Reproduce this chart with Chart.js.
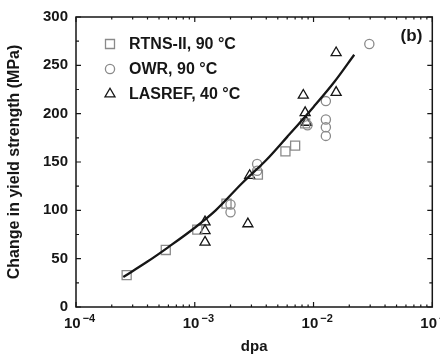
<!DOCTYPE html>
<html>
<head>
<meta charset="utf-8">
<script src="https://cdn.jsdelivr.net/npm/chart.js@4/dist/chart.umd.min.js"></script>
<style>
  html, body { margin: 0; padding: 0; background: #fff; }
  #wrap { width: 440px; height: 356px; }
</style>
</head>
<body>
<div id="wrap"><canvas id="c" width="440" height="356"></canvas></div>
<script>
// Irradiation dose (dpa) and yield-strength increase (MPa) for each facility
const rtnsDpa = [2.67e-4, 5.7e-4, 1.05e-3, 1.85e-3, 3.4e-3, 5.8e-3, 7.0e-3, 8.5e-3];
const rtnsDs  = [33, 59, 80, 107, 137, 161, 167, 190];

const owrDpa = [2.0e-3, 2.0e-3, 3.35e-3, 3.35e-3, 8.9e-3, 1.27e-2, 1.27e-2, 1.27e-2, 1.27e-2, 2.95e-2];
const owrDs  = [106, 98, 148, 141, 188, 213, 194, 186, 177, 272];

const lasrefDpa = [1.22e-3, 1.22e-3, 1.22e-3, 2.8e-3, 2.9e-3, 8.2e-3, 8.5e-3, 8.7e-3, 1.55e-2, 1.55e-2];
const lasrefDs  = [88, 79, 67, 86, 136, 219, 201, 191, 222, 263];

// Trend line through the combined data
const fitDpa = [2.5e-4, 4e-4, 6e-4, 1e-3, 1.5e-3, 2.5e-3, 4e-3, 6e-3, 1e-2, 1.5e-2, 2.2e-2];
const fitDs  = [31, 47, 62, 82, 100, 128, 152, 176, 207, 233, 261];

const seriesLabels = ['RTNS-II, 90 °C', 'OWR, 90 °C', 'LASREF, 40 °C'];
const decadeExponents = [-4, -3, -2, -1];
const yTickStep = 50;

const FONT = "'Liberation Sans', Arial, Helvetica, sans-serif";
const INK = '#161616';
const GREY = '#8a8a8a';

const pts = (xs, ys) => xs.map((x, i) => ({ x, y: ys[i] }));

function marker(ctx, style, x, y, color, lw) {
  ctx.save();
  ctx.strokeStyle = color;
  ctx.lineWidth = lw;
  ctx.beginPath();
  if (style === 'rect') {
    const s = 4.5;
    ctx.rect(x - s, y - s, 2 * s, 2 * s);
  } else if (style === 'circle') {
    ctx.arc(x, y, 4.6, 0, Math.PI * 2);
  } else {
    const r = 5.8;
    for (let k = 0; k < 3; k++) {
      const a = k * 2 * Math.PI / 3;
      const px = x + Math.sin(a) * r, py = y - Math.cos(a) * r;
      k === 0 ? ctx.moveTo(px, py) : ctx.lineTo(px, py);
    }
    ctx.closePath();
  }
  ctx.stroke();
  ctx.restore();
}

// Box frame, inward ticks, power-of-ten labels, legend and panel tag
const decorations = {
  id: 'decorations',
  afterDraw(chart) {
    const { ctx, chartArea: a, scales: { x, y } } = chart;
    ctx.save();
    ctx.strokeStyle = INK;
    ctx.lineWidth = 1.5;
    ctx.strokeRect(a.left, a.top, a.right - a.left, a.bottom - a.top);

    ctx.lineWidth = 1.2;
    ctx.beginPath();
    for (let v = y.min; v <= y.max; v += yTickStep / 2) {
      const py = y.getPixelForValue(v);
      const len = (v % yTickStep === 0) ? 5 : 3;
      ctx.moveTo(a.left, py); ctx.lineTo(a.left + len, py);
      ctx.moveTo(a.right, py); ctx.lineTo(a.right - len, py);
    }
    for (const e of decadeExponents) {
      for (let m = 1; m <= 9; m++) {
        const v = m * Math.pow(10, e);
        if (v < x.min * 0.999 || v > x.max * 1.001) continue;
        const px = x.getPixelForValue(v);
        const len = m === 1 ? 5 : 2.5;
        ctx.moveTo(px, a.bottom); ctx.lineTo(px, a.bottom - len);
        ctx.moveTo(px, a.top); ctx.lineTo(px, a.top + len);
      }
    }
    ctx.stroke();

    // x tick labels: 10 with a raised exponent
    ctx.fillStyle = INK;
    ctx.textBaseline = 'alphabetic';
    for (const e of decadeExponents) {
      const px = x.getPixelForValue(Math.pow(10, e));
      ctx.font = 'bold 15px ' + FONT;
      ctx.textAlign = 'left';
      const base = '10';
      const bw = ctx.measureText(base).width;
      const x0 = px - 12;
      ctx.fillText(base, x0, a.bottom + 21);
      ctx.font = 'bold 11px ' + FONT;
      ctx.fillText('\u2212' + Math.abs(e), x0 + bw + 2, a.bottom + 15);
    }

    // legend
    const styles = ['rect', 'circle', 'triangle'];
    const colors = [GREY, GREY, INK];
    ctx.font = 'bold 16px ' + FONT;
    ctx.textAlign = 'left';
    ctx.textBaseline = 'middle';
    seriesLabels.forEach((t, i) => {
      const ly = a.top + 27 + i * 25;
      marker(ctx, styles[i], a.left + 34, ly, colors[i], 1.3);
      ctx.fillStyle = INK;
      ctx.fillText(t, a.left + 53, ly + 1);
    });

    ctx.font = 'bold 17px ' + FONT;
    ctx.textAlign = 'right';
    ctx.fillText('(b)', a.right - 10, a.top + 19);
    ctx.restore();
  }
};

new Chart(document.getElementById('c'), {
  type: 'scatter',
  data: {
    datasets: [
      {
        label: 'fit', type: 'line', data: pts(fitDpa, fitDs),
        borderColor: INK, borderWidth: 2.3, pointRadius: 0, fill: false,
        cubicInterpolationMode: 'monotone', showLine: true, order: 0
      },
      {
        label: seriesLabels[0], data: pts(rtnsDpa, rtnsDs), pointStyle: 'rect',
        pointRadius: 6.4, borderColor: GREY, backgroundColor: 'rgba(0,0,0,0)', borderWidth: 1.3
      },
      {
        label: seriesLabels[1], data: pts(owrDpa, owrDs), pointStyle: 'circle',
        pointRadius: 4.6, borderColor: GREY, backgroundColor: 'rgba(0,0,0,0)', borderWidth: 1.3
      },
      {
        label: seriesLabels[2], data: pts(lasrefDpa, lasrefDs), pointStyle: 'triangle',
        pointRadius: 5.8, borderColor: INK, backgroundColor: 'rgba(0,0,0,0)', borderWidth: 1.3
      }
    ]
  },
  options: {
    responsive: false,
    animation: false,
    devicePixelRatio: 1,
    layout: { padding: { top: 13, right: 3, left: 0, bottom: 0 } },
    plugins: { legend: { display: false }, tooltip: { enabled: false } },
    scales: {
      x: {
        type: 'logarithmic', min: 1e-4, max: 1e-1,
        grid: { display: false, drawTicks: false },
        border: { display: false },
        ticks: { display: false },
        title: {
          display: true, text: 'dpa', color: INK,
          font: { family: FONT, size: 15, weight: 'bold' },
          padding: { top: 0, bottom: 0 }
        },
        afterFit(s) { s.height = 49; }
      },
      y: {
        min: 0, max: 300,
        grid: { display: false, drawTicks: false },
        border: { display: false },
        ticks: {
          stepSize: yTickStep, color: INK, padding: 8,
          font: { family: FONT, size: 15, weight: 'bold' }
        },
        title: {
          display: true, text: 'Change in yield strength (MPa)', color: INK,
          font: { family: FONT, size: 16, weight: 'bold' },
          padding: { top: 5, bottom: 0 }
        },
        afterFit(s) { s.width = 76; }
      }
    }
  },
  plugins: [decorations]
});
</script>
</body>
</html>
